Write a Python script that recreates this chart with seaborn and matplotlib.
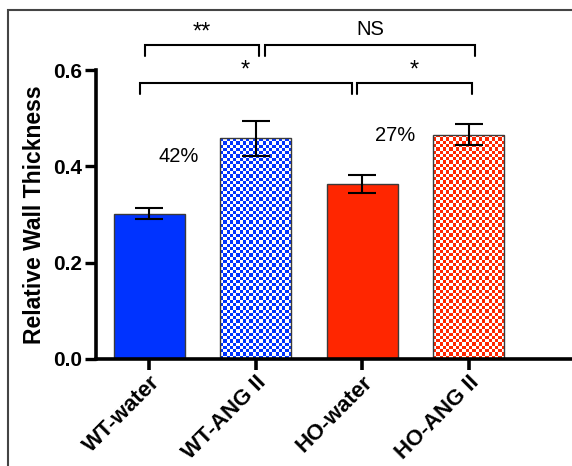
import numpy as np
import pandas as pd
import matplotlib
matplotlib.use("Agg")
import matplotlib.pyplot as plt
import seaborn as sns
from matplotlib.patches import Rectangle

# data
groups = ["WT-water", "WT-ANG II", "HO-water", "HO-ANG II"]
means = [0.302, 0.458, 0.364, 0.466]
sems = [0.012, 0.037, 0.019, 0.022]
bar_colors = ["#0033FF", "#0033FF", "#FF2600", "#FF2600"]
checkered = [False, True, False, True]
pct_labels = ["42%", "27%"]
pct_pos = [(0.28, 0.42), (2.31, 0.465)]

# significance brackets: (x start, x end, height, label)
brackets = [(-0.04, 1.03, 0.651, "**"),
            (1.09, 3.06, 0.651, "NS"),
            (-0.09, 1.90, 0.573, "*"),
            (1.955, 3.03, 0.573, "*")]

sns.set_style("ticks")
plt.rcParams['font.family'] = ['Liberation Sans', 'DejaVu Sans']
for key in ["text.color", "axes.labelcolor", "xtick.color", "ytick.color", "axes.edgecolor"]:
    plt.rcParams[key] = "black"

df = pd.DataFrame({"group": groups, "value": means})

fig = plt.figure(figsize=(5.72, 4.66), dpi=100)
ax = fig.add_axes([96 / 572, 1 - 359 / 466, 1 - 96 / 572, (359 - 70) / 466])

sns.barplot(data=df, x="group", y="value", hue="group", palette=bar_colors,
            legend=False, width=0.67, errorbar=None, ax=ax,
            edgecolor="#3a3a3a", linewidth=1.0, saturation=1)

ax.errorbar(range(len(groups)), means, yerr=sems, fmt="none", ecolor="black",
            elinewidth=1.5, capsize=10, capthick=1.5, zorder=5)

ax.set_xlim(-0.5, 3.97)
ax.set_ylim(0, 0.6)
ax.set_yticks([0.0, 0.2, 0.4, 0.6])
ax.set_yticklabels(["0.0", "0.2", "0.4", "0.6"])

# checkerboard fill for the ANG II bars
fig.canvas.draw()
bars = [p for p in ax.patches if isinstance(p, Rectangle)][:len(groups)]
for bar, col, chk in zip(bars, bar_colors, checkered):
    if not chk:
        continue
    x0, y0 = bar.get_x(), bar.get_y()
    w, h = bar.get_width(), bar.get_height()
    (px0, py0), (px1, py1) = ax.transData.transform([(x0, y0), (x0 + w, y0 + h)])
    nx = max(1, int(round(abs(px1 - px0) / 3.3)))
    ny = max(1, int(round(abs(py1 - py0) / 3.3)))
    ii, jj = np.indices((ny, nx))
    mask = (ii + jj) % 2 == 0
    rgb = np.array(matplotlib.colors.to_rgb(col))
    img = np.ones((ny, nx, 3))
    img[mask] = rgb
    im = ax.imshow(img, extent=(x0, x0 + w, y0, y0 + h), origin="lower",
                   interpolation="nearest", aspect="auto", zorder=bar.get_zorder() + 0.1)
    im.set_clip_path(bar)
    bar.set_facecolor("none")
    bar.set_zorder(bar.get_zorder() + 0.2)

ax.set_xlim(-0.5, 3.97)
ax.set_ylim(0, 0.6)

# axes styling
sns.despine(ax=ax)
for s in ["left", "bottom"]:
    ax.spines[s].set_linewidth(2.6)
    ax.spines[s].set_color("black")
ax.tick_params(axis="y", length=8, width=2.4, labelsize=15, pad=2, colors="black")
ax.tick_params(axis="x", length=8, width=2.6, labelsize=16, pad=1, colors="black")
for lab in ax.get_yticklabels():
    lab.set_fontweight("bold")
for lab in ax.get_xticklabels():
    lab.set_fontweight("bold")
    lab.set_rotation(45)
    lab.set_ha("right")
    lab.set_rotation_mode("anchor")
ax.set_xlabel("")
ax.set_ylabel("Relative Wall Thickness", fontsize=16.5, fontweight="bold",
              labelpad=5, color="black")

# percentage annotations
for txt, (x, y) in zip(pct_labels, pct_pos):
    ax.text(x, y, txt, fontsize=14.5, ha="center", va="center", color="black")

# brackets
for x0, x1, y, lab in brackets:
    ax.plot([x0, x0, x1, x1], [y - 0.022, y, y, y - 0.022], color="black",
            lw=1.5, clip_on=False, solid_joinstyle="miter")
    if lab == "NS":
        ax.text((x0 + x1) / 2, y + 0.013, lab, fontsize=14.5, ha="center",
                va="bottom", clip_on=False, color="black")
    else:
        ax.text((x0 + x1) / 2, y + 0.026, lab, fontsize=17, ha="center",
                va="center", clip_on=False, color="black")

# outer frame of the original panel
fig.patches.append(Rectangle((8 / 572, -0.2), 2, 1.2 - 10 / 466, transform=fig.transFigure,
                             fill=False, edgecolor="#444444", lw=1.5))

fig.savefig("out.png", dpi=100)
